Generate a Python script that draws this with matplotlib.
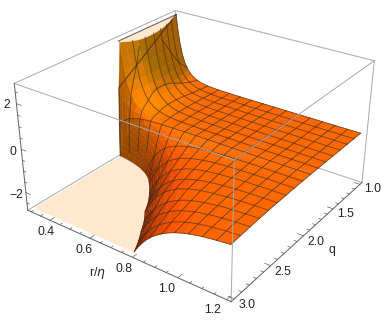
"""
Surface over r/eta and q, clipped at the top and bottom of the box
"""
import numpy as np
import matplotlib
matplotlib.use('Agg')
import matplotlib.pyplot as plt
from mpl_toolkits.mplot3d.art3d import Poly3DCollection

W, H = 382, 327
plt.rcParams['font.family'] = ['Liberation Sans', 'DejaVu Sans']

# q of each table row
q_vals = np.array([1, 1.125, 1.25, 1.375, 1.5, 1.625, 1.7, 1.75, 1.8, 1.84, 1.86, 1.875, 1.885,
                   1.9, 1.92, 1.95, 2, 2.06, 2.125, 2.25, 2.375, 2.5, 2.625, 2.75, 2.875, 3])
# r where each row starts (edge of the clipped cap)
r_cap = np.array([.300, .317, .335, .349, .357, .358, .352, .340, .326, .308, .300, .300, .300,
                  .346, .388, .431, .479, .516, .544, .590, .629, .659, .700, .732, .765, .793])
# fraction of the way from r_cap to r = 1.2 for each table column
t_vals = np.array([0, .01, .02, .035, .05, .07, .09, .12, .15, .19, .24, .3, .37, .45, .55, .7, .85, 1])
# surface height x100, rows follow q_vals, columns follow t_vals
z_table = [
    [275, 201, 146, 87, 48, 15, -5, -22, -31, -37, -40, -41, -42, -42, -42, -42, -42, -42],
    [275, 206, 153, 95, 56, 22, 0, -18, -28, -35, -39, -41, -41, -42, -42, -42, -42, -42],
    [275, 210, 160, 104, 64, 29, 6, -14, -25, -33, -38, -40, -41, -42, -42, -42, -42, -42],
    [275, 213, 165, 110, 71, 35, 11, -10, -23, -32, -37, -40, -41, -42, -42, -42, -42, -42],
    [275, 215, 167, 113, 74, 38, 14, -8, -21, -31, -36, -39, -41, -42, -42, -42, -42, -42],
    [275, 215, 168, 113, 74, 38, 14, -8, -21, -31, -36, -39, -41, -42, -42, -42, -42, -42],
    [275, 214, 165, 111, 72, 36, 12, -10, -22, -31, -37, -40, -41, -42, -42, -42, -42, -42],
    [275, 211, 161, 106, 67, 31, 8, -13, -24, -33, -38, -40, -41, -42, -42, -42, -42, -42],
    [275, 208, 156, 99, 60, 25, 3, -16, -27, -34, -38, -40, -41, -42, -42, -42, -42, -42],
    [275, 203, 149, 91, 52, 18, -2, -20, -30, -36, -39, -41, -42, -42, -42, -42, -42, -42],
    [60, 36, 18, -1, -13, -24, -30, -36, -38, -40, -41, -42, -42, -42, -42, -42, -42, -42],
    [-120, -107, -97, -85, -76, -67, -61, -54, -50, -47, -45, -44, -43, -42, -42, -42, -42, -42],
    [-275, -237, -206, -170, -143, -116, -98, -79, -67, -58, -51, -47, -45, -43, -43, -42, -42, -42],
    [-275, -244, -217, -184, -158, -131, -112, -91, -77, -65, -56, -50, -47, -45, -43, -43, -42, -42],
    [-275, -249, -225, -196, -171, -145, -125, -103, -88, -73, -62, -55, -50, -46, -44, -43, -43, -42],
    [-275, -252, -231, -204, -182, -157, -137, -115, -98, -82, -70, -60, -53, -49, -46, -44, -43, -43],
    [-275, -255, -237, -213, -193, -170, -151, -128, -111, -93, -79, -67, -58, -52, -48, -45, -44, -43],
    [-275, -257, -241, -219, -200, -179, -160, -138, -120, -102, -86, -73, -63, -56, -51, -47, -45, -43],
    [-275, -259, -244, -224, -206, -185, -168, -146, -128, -110, -93, -79, -68, -59, -53, -48, -45, -44],
    [-275, -261, -248, -230, -214, -195, -179, -158, -140, -121, -104, -88, -75, -66, -58, -51, -47, -45],
    [-275, -263, -251, -235, -221, -203, -187, -167, -150, -132, -113, -97, -83, -72, -63, -54, -50, -47],
    [-275, -264, -253, -239, -225, -209, -194, -174, -158, -140, -121, -104, -89, -77, -67, -57, -52, -48],
    [-275, -265, -256, -243, -231, -216, -202, -184, -169, -151, -132, -115, -99, -86, -74, -62, -56, -51],
    [-275, -266, -258, -246, -235, -221, -209, -192, -177, -159, -141, -123, -107, -93, -80, -67, -59, -54],
    [-275, -267, -260, -249, -239, -226, -215, -199, -185, -168, -150, -133, -116, -101, -87, -73, -64, -58],
    [-275, -268, -261, -251, -242, -231, -220, -205, -191, -175, -158, -141, -124, -109, -94, -79, -69, -61],
]
z_tab = np.array(z_table) / 100
r_tab = np.array([rc + t_vals * (1.2 - rc) for rc in r_cap])
Q = np.repeat(q_vals[:, None], len(t_vals), axis=1)
Z_CAP = 2.75

r_mesh = [.35625, .4125, .46875, .525, .58125, .6375, .69375, .75, .80625, .8625, .91875,
          .975, 1.03125, 1.0875, 1.14375, 1.2]
q_mesh = [1, 1.125, 1.25, 1.375, 1.5, 1.625, 1.75, 1.875, 2, 2.125, 2.25, 2.375, 2.5, 2.625, 2.75, 2.875, 3]

z_ticks = [2, 0, -2]
z_labels = [('2', 7, 105), ('0', 13, 152), ('\u22122', 16, 195)]
r_labels = [('0.4', 46, 232), ('0.6', 84, 250), ('0.8', 124, 269), ('1.0', 167, 289), ('1.2', 213, 310)]
q_labels = [('1.0', 373, 189), ('1.5', 346, 214), ('2.0', 316, 242), ('2.5', 283, 272), ('3.0', 247, 305)]

xl, yl, zl = (0.282, 1.218), (3.04, 0.96), (-2.85, 2.85)
elev, azim, roll, fl = 27.8064, -54.0601, -0.064, 0.4439
ba, bb = 0.9993, 0.5654

fig = plt.figure(figsize=(W / 100, H / 100), dpi=100)
S = 366.7
ax = fig.add_axes([11.1 / W, 2.5 / H, S / W, S / H], projection='3d', computed_zorder=False)
ax.view_init(elev, azim, roll)
ax.set_proj_type('persp', focal_length=fl)
ax.set_box_aspect((ba, 1, bb))
ax.set_axis_off()

# facet normals in view space, used for the orange shading
Xn = ba * (r_tab - xl[0]) / (xl[1] - xl[0])
Yn = (Q - yl[0]) / (yl[1] - yl[0])
Zn = bb * (z_tab - zl[0]) / (zl[1] - zl[0])
d1 = np.stack([Xn[1:, 1:] - Xn[:-1, :-1], Yn[1:, 1:] - Yn[:-1, :-1], Zn[1:, 1:] - Zn[:-1, :-1]], -1)
d2 = np.stack([Xn[1:, :-1] - Xn[:-1, 1:], Yn[1:, :-1] - Yn[:-1, 1:], Zn[1:, :-1] - Zn[:-1, 1:]], -1)
n = np.cross(d1, d2)
n /= np.linalg.norm(n, axis=-1, keepdims=True)
e, a = np.radians(elev), np.radians(azim)
w = np.array([np.cos(e) * np.cos(a), np.cos(e) * np.sin(a), np.sin(e)])
u = np.array([-w[1], w[0], 0])
u /= np.linalg.norm(u)
v = np.cross(w, u)
n = np.where((n @ w)[..., None] < 0, -n, n)
nx, ny, nz = n @ u, n @ v, n @ w
dark = np.where(nx > 0, 1, .75 + .25 * np.clip(nz / .25, 0, 1))
red = np.clip((.093 - .026 * nx + .6 * ny + 1.0 * nz) * dark, .42, 1)
grn = np.clip((.112 + .083 * nx + .118 * ny + .412 * nz) * dark ** 2, .1, 1)
red = np.where(nx > .3, np.maximum(red, .64), red)
grn = np.where(nx > .3, np.maximum(grn, .38), grn)
cols = np.stack([red, grn, 0 * red, 1 + 0 * red], -1)

edge = '#a8a8a8'
axc = '#606060'
cream = '#ffe8d0'
mesh_c = (.22, .16, .1, .72)


def seg(p0, p1, c=edge, lw=.7, zo=1):
    ax.plot([p0[0], p1[0]], [p0[1], p1[1]], [p0[2], p1[2]], color=c, lw=lw, zorder=zo)


def cap_poly(mask, zc, zo):
    vs = [(r, q, zc) for r, q in zip(r_cap[mask], q_vals[mask])]
    vs += [(.3, q_vals[mask][-1], zc), (.3, q_vals[mask][0], zc)]
    ax.add_collection3d(Poly3DCollection([vs], facecolors=cream, edgecolors=cream, linewidths=.3, zorder=zo))


x0, x1 = xl
y0, y1 = yl
z0, z1 = zl

# back edges of the box go under the surface
seg((x0, y0, z1), (x0, y1, z1))
seg((x0, y1, z1), (x1, y1, z1))
seg((x1, y1, z0), (x1, y1, z1))
seg((x0, y0, z0), (x0, y1, z0))
seg((x0, y1, z0), (x1, y1, z0))
seg((x0, y1, z0), (x0, y1, z1))

top = z_tab[:, 0] >= Z_CAP
bot = z_tab[:, 0] <= -Z_CAP
cap_poly(bot, -Z_CAP, 1.5)
ax.plot_surface(r_tab, Q, z_tab, facecolors=cols, rstride=1, cstride=1, shade=False,
                linewidth=.25, antialiased=True, zorder=2)
cap_poly(top, Z_CAP, 2.5)

# mesh lines
for rm in r_mesh:
    zz = np.array([np.interp(rm, rr, zr) if rm >= rr[0] else np.nan for rr, zr in zip(r_tab, z_tab)])
    ax.plot(rm + 0 * q_vals, q_vals, zz, color=mesh_c, lw=.6, zorder=3)
for qm in q_mesh:
    j = np.argmin(abs(q_vals - qm))
    ax.plot(r_tab[j], Q[j], z_tab[j], color=mesh_c, lw=.6, zorder=3)
wall = r_cap <= .3001
ax.plot(r_cap[wall], q_vals[wall], z_tab[wall, 0], color=mesh_c, lw=.8, zorder=3)
seg((.3, 1, Z_CAP), (.3, q_vals[top][-1], Z_CAP), c=mesh_c, lw=.8, zo=3)

# front edges and axes go on top
seg((x0, y0, z1), (x1, y0, z1), zo=4)
seg((x1, y0, z1), (x1, y1, z1), zo=4)
seg((x1, y0, z0), (x1, y0, z1), zo=4)
seg((x0, y0, z0), (x0, y0, z1), c=axc, zo=4)
seg((x0, y0, z0), (x1, y0, z0), c=axc, zo=4)
seg((x1, y0, z0), (x1, y1, z0), c=axc, zo=4)

for k in range(-5, 6):
    t = k * .5
    L = .024 if t in z_ticks else .012
    seg((x0, y0, t), (x0 + L, y0, t), c=axc, lw=.5, zo=4)
for k in range(6, 25):
    L = .05 if k % 4 == 0 else .025
    seg((k * .05, y0, z0), (k * .05, y0 - L, z0), c=axc, lw=.5, zo=4)
for k in range(10, 31):
    L = .024 if k % 5 == 0 else .012
    seg((x1, k * .1, z0), (x1 - L, k * .1, z0), c=axc, lw=.5, zo=4)

ax.set_xlim(xl)
ax.set_ylim(yl)
ax.set_zlim(zl)

for s, x, y in z_labels + r_labels + q_labels + [('q', 332, 250), ('r/$\\eta$', 97, 273)]:
    fig.text(x / W, 1 - y / H, s, ha='center', va='center', fontsize=8.8, color='#222222')

fig.savefig('out.png', dpi=100)
